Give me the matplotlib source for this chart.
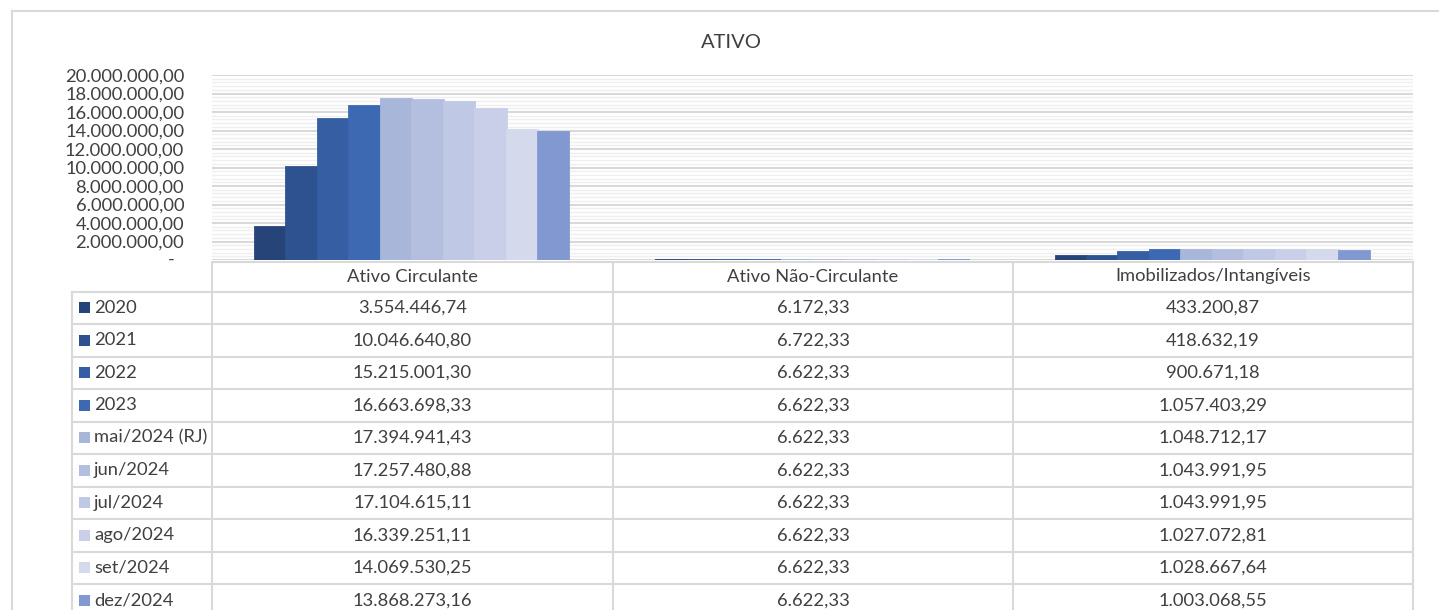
import matplotlib
matplotlib.use("Agg")
import matplotlib.pyplot as plt
from matplotlib.lines import Line2D
from matplotlib.patches import Rectangle
from matplotlib.transforms import blended_transform_factory
import numpy as np

plt.rcParams["font.family"] = ["Lato", "DejaVu Sans"]

# dados do gráfico
categorias = ["Ativo Circulante", "Ativo Não-Circulante", "Imobilizados/Intangíveis"]
periodos = ["2020", "2021", "2022", "2023", "mai/2024 (RJ)", "jun/2024",
            "jul/2024", "ago/2024", "set/2024", "dez/2024"]
ativo_circulante = [3554446.74, 10046640.80, 15215001.30, 16663698.33, 17394941.43,
                    17257480.88, 17104615.11, 16339251.11, 14069530.25, 13868273.16]
ativo_nao_circulante = [6172.33, 6722.33, 6622.33, 6622.33, 6622.33,
                        6622.33, 6622.33, 6622.33, 6622.33, 6622.33]
imobilizados = [433200.87, 418632.19, 900671.18, 1057403.29, 1048712.17,
                1043991.95, 1043991.95, 1027072.81, 1028667.64, 1003068.55]
cores = ["#264478", "#2e5190", "#355ea3", "#3d68b2", "#a8b6da",
         "#b4bfdf", "#bfc8e4", "#c9cfe8", "#d4d9ec", "#8198d0"]

W, H = 1439, 610
TXT = "#404040"
GRADE = "#d9d9d9"
FS = 13.2


def fmt_br(v):
    s = f"{v:,.2f}"
    return s.replace(",", "X").replace(".", ",").replace("X", ".")


fig = plt.figure(figsize=(W / 100, H / 100), dpi=100)

# área do gráfico (pixels: x 212-1413, y 75-260)
ax = fig.add_axes([212 / W, 1 - 260 / H, (1413 - 212) / W, (260 - 75) / H])
valores = np.array([ativo_circulante, ativo_nao_circulante, imobilizados]).T
n = len(periodos)
largura = 0.786 / n
x = np.arange(len(categorias))
for j in range(n):
    pos = x + (j - (n - 1) / 2) * largura
    ax.bar(pos, valores[j], width=largura, color=cores[j],
           edgecolor=cores[j], linewidth=1.3, zorder=3)

ax.set_xlim(-0.5, len(categorias) - 0.5)
ax.set_ylim(0, 20000000)
ax.set_yticks(np.arange(0, 20000001, 2000000))
ax.set_yticks(np.arange(0, 20000001, 400000), minor=True)
ax.set_yticklabels(["" if t == 0 else fmt_br(t) for t in ax.get_yticks()])
ax.tick_params(axis="y", which="both", length=0, pad=20, labelsize=FS, labelcolor=TXT)
ax.set_xticks([])
ax.grid(axis="y", which="minor", color="#efefef", linewidth=1.0, zorder=0)
ax.grid(axis="y", which="major", color=GRADE, linewidth=1.5, zorder=1)
for s in ax.spines.values():
    s.set_visible(False)
ax.text((175 - 212) / 1201, 0, "-", transform=blended_transform_factory(ax.transAxes, ax.transData),
        ha="right", va="center", fontsize=FS, color=TXT)

# camada para tabela, título e bordas em pixels
ov = fig.add_axes([0, 0, 1, 1], zorder=5)
ov.set_xlim(0, W)
ov.set_ylim(H, 0)
ov.axis("off")
ov.patch.set_alpha(0)

lw = 1.5
ov.add_line(Line2D([12, W], [10.5, 10.5], color=GRADE, lw=lw))
ov.add_line(Line2D([12, 12], [10.5, H], color=GRADE, lw=lw))

ov.text(731, 43, "ATIVO", ha="center", va="center", fontsize=14.5, color=TXT)

col_x = [212, 613, 1013, 1413]
topo = 261.5
cab_base = 291.5
alt = 32.5

ov.add_line(Line2D([212, 1413], [topo, topo], color=GRADE, lw=lw))
for cx in col_x:
    ov.add_line(Line2D([cx, cx], [topo, H], color=GRADE, lw=lw))
ov.add_line(Line2D([72, 72], [cab_base, H], color=GRADE, lw=lw))
for k in range(n + 1):
    y = cab_base + k * alt
    ov.add_line(Line2D([72, 1413], [y, y], color=GRADE, lw=lw))

for i, cat in enumerate(categorias):
    cx = (col_x[i] + col_x[i + 1]) / 2
    ov.text(cx, (topo + cab_base) / 2, cat, ha="center", va="center",
            fontsize=FS, color=TXT)

for j, per in enumerate(periodos):
    yc = cab_base + j * alt + alt / 2
    ov.add_patch(Rectangle((79, yc - 5.5), 11, 11, color=cores[j], lw=0))
    ov.text(94, yc, per, ha="left", va="center", fontsize=FS, color=TXT)
    for i in range(len(categorias)):
        cx = (col_x[i] + col_x[i + 1]) / 2
        ov.text(cx, yc, fmt_br(valores[j][i]), ha="center", va="center",
                fontsize=FS, color=TXT)

fig.savefig("out.png", dpi=100)
